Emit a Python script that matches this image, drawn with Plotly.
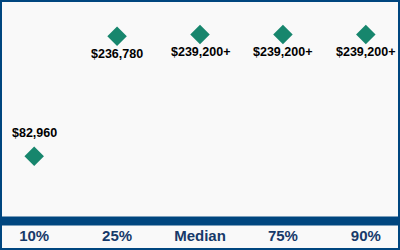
import plotly.graph_objects as go

categories = ["10%", "25%", "Median", "75%", "90%"]
values = [82960, 236780, 239200, 239200, 239200]
labels = ["$82,960", "$236,780", "$239,200+", "$239,200+", "$239,200+"]
label_shifts = [23, -18, -18, -18, -18]

NAVY = "#00467f"
TEAL = "#17866d"
BG = "#f9f9f9"

fig = go.Figure()
fig.add_trace(go.Scatter(
    x=categories, y=values, mode="markers",
    marker=dict(symbol="diamond", size=15, color=TEAL),
    cliponaxis=False, hoverinfo="skip",
))

annotations = [
    dict(x=c, y=v, text="<b>%s</b>" % t, showarrow=False, yshift=s,
         font=dict(family="Liberation Sans, Arial", size=12.5, color="#000000"))
    for c, v, t, s in zip(categories, values, labels, label_shifts)
]

fig.update_layout(
    width=400, height=250,
    margin=dict(l=1, r=1, t=1, b=29),
    paper_bgcolor=BG, plot_bgcolor=BG,
    showlegend=False,
    annotations=annotations,
    xaxis=dict(type="category", range=[-0.4, 4.4], showgrid=False, zeroline=False,
               showline=False, ticks="", ticklabelstandoff=4,
               tickvals=categories, ticktext=["<b>%s</b>" % c for c in categories],
               tickfont=dict(family="Liberation Sans, Arial", size=15, color="#173a6a")),
    yaxis=dict(range=[0, 282000], showgrid=False, zeroline=False, showticklabels=False,
               showline=False, ticks=""),
    shapes=[
        dict(type="line", xref="paper", yref="paper", x0=0, x1=1, y0=0, y1=0,
             line=dict(color=NAVY, width=9), layer="above"),
        dict(type="rect", xref="paper", yref="paper", x0=0, x1=1, y0=-28/220, y1=1,
             line=dict(color=NAVY, width=2), fillcolor="rgba(0,0,0,0)", layer="above"),
    ],
)

fig.write_html("out.html", config={"displayModeBar": False})
